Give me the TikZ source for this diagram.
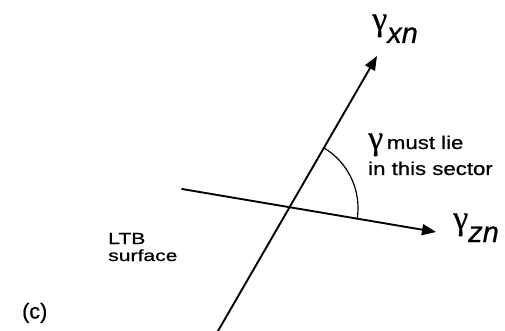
\documentclass[tikz,border=0pt]{standalone}
\usepackage{graphicx}
\usepackage{fontspec}
\setmainfont[FakeBold=0.6]{Liberation Sans}
\newfontfamily\grkfont[FakeBold=0.6]{Liberation Serif}
\usetikzlibrary{calc, arrows.meta}

\newcommand{\gam}{{\grkfont\fontsize{34}{34}\selectfont γ}}
\newcommand{\subidx}[1]{\raisebox{-13pt}{\fontsize{29}{29}\selectfont\itshape #1}}
\newcommand{\widetxt}[2]{\scalebox{#1}[1]{#2}}

\begin{document}
\begin{tikzpicture}[
  x={(1pt,0pt)},
  y={(0pt,-1pt)},
  line cap=round,
  axis/.style={-{Triangle[length=14pt, width=11pt]}, line width=1.9pt},
  sector/.style={line width=1.2pt},
  lbl/.style={inner sep=0pt, anchor=base west, align=left},
]
\useasboundingbox (0,0) rectangle (505,331);

% the two directions, crossing at O
\coordinate (xlow) at (218,331);
\coordinate (xtip) at (377,56);
\coordinate (zlow) at (182,189);
\coordinate (ztip) at (436,232);
\coordinate (O) at (288,208);

\draw[axis] (xlow) -- (xtip);
\draw[axis] (zlow) -- (ztip);

% sector between the two directions
\coordinate (arcstart) at ($(O)+(-59.7:70)$);
\draw[sector] (arcstart) arc[start angle=-59.7, end angle=8.8, radius=70];

% labels (base = last line)
\node[lbl] (gxn) at (372,30) {\gam\subidx{xn}};
\node[lbl] (gzn) at (453,229) {\gam\subidx{zn}};

\node[lbl, font=\fontsize{18.5}{26}\selectfont] (sect) at (368,175)
  {\gam\widetxt{1.2}{\,must lie}\\\widetxt{1.2}{in this sector}};

\node[lbl, font=\fontsize{16}{17}\selectfont] (ltb) at (108,261)
  {\widetxt{1.32}{LTB}\\\widetxt{1.32}{surface}};

\node[lbl, font=\fontsize{21.5}{24}\selectfont] (tag) at (22,318.5) {(c)};

\end{tikzpicture}
\end{document}
